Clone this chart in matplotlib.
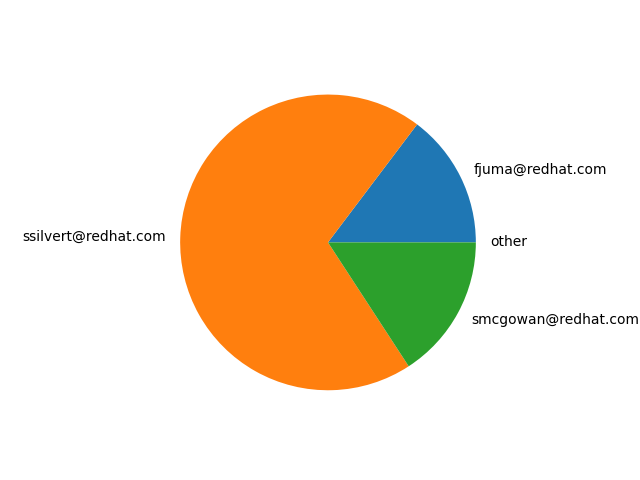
import matplotlib
matplotlib.use("Agg")
import matplotlib.pyplot as plt

# commits per author
authors = ['fjuma@redhat.com', 'ssilvert@redhat.com', 'smcgowan@redhat.com', 'other']
counts = [40, 189, 43, 0]

fig = plt.figure(figsize=(6.4, 4.8), dpi=100)
plt.pie(counts, labels=authors)
plt.savefig('out.png')
